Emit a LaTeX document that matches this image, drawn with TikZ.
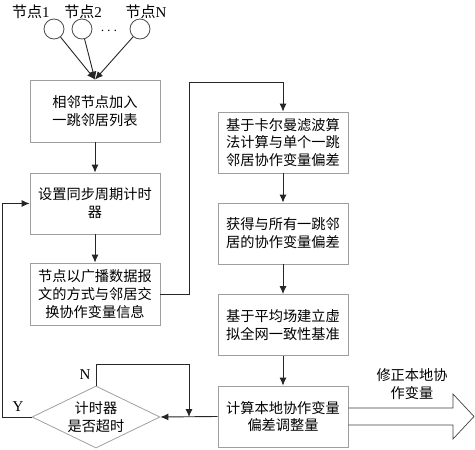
\documentclass[tikz,border=0pt]{standalone}
\usepackage{fontspec}
\setmainfont{Liberation Serif}
\newfontfamily\cjk{Noto Sans CJK SC}
\usetikzlibrary{arrows.meta,shapes.geometric,calc}
\begin{document}
\begin{tikzpicture}[x=1pt,y=-1pt,
  box/.style={draw=gray!75, line width=0.8pt, minimum width=130pt, minimum height=62pt, inner sep=0pt, align=center, font=\cjk\fontsize{14.2}{17.8}\selectfont},
  arr/.style={-{Latex[length=8pt,width=7pt]}, line width=0.9pt, draw=black!85},
  circ/.style={circle, draw=black!70, line width=0.8pt, minimum size=20pt, inner sep=0pt},
  lbl/.style={font=\fontsize{15}{17}\selectfont, inner sep=0pt},
  clbl/.style={font=\cjk\fontsize{14.2}{18}\selectfont, align=center, inner sep=0pt}]
\useasboundingbox (0,0) rectangle (475,450);
% top nodes
\node[lbl] (l1) at (31,12) {{\cjk 节点}1};
\node[lbl] (l2) at (83,12) {{\cjk 节点}2};
\node[lbl] (lN) at (146,12) {{\cjk 节点}N};
\node[circ] (c1) at (54,29) {};
\node[circ] (c2) at (82,29) {};
\node[circ] (cN) at (140,29) {};
\node[lbl] (dots) at (109,31) {$\cdots$};
% boxes
\node[box] (b1) at (95,111) {相邻节点加入\\一跳邻居列表};
\node[box, minimum height=61pt] (b2) at (95,203.5) {设置同步周期计时\\器};
\node[box] (b3) at (95,294) {节点以广播数据报\\文的方式与邻居交\\换协作变量信息};
\node[box, minimum height=61pt] (b4) at (283,142.5) {基于卡尔曼滤波算\\法计算与单个一跳\\邻居协作变量偏差};
\node[box, minimum height=61pt] (b5) at (283,233.5) {获得与所有一跳邻\\居的协作变量偏差};
\node[box, minimum height=61pt] (b6) at (283,325) {基于平均场建立虚\\拟全网一致性基准};
\node[box, minimum height=61pt] (b7) at (283,416.5) {计算本地协作变量\\偏差调整量};
% decision
\node[diamond, draw=gray!75, line width=0.8pt, minimum width=128pt, minimum height=62pt, inner sep=0pt] (d) at (96,417) {};
\node[clbl] (dt) at (d.center) {计时器\\是否超时};
% connectors
\draw[arr] (c1) -- (b1.north);
\draw[arr] (c2) -- (b1.north);
\draw[arr] (cN) -- (b1.north);
\draw[arr] (b1) -- (b2);
\draw[arr] (b2) -- (b3);
\coordinate (t) at (189,82);
\draw[arr] (b3.east) -| (t) -| (b4.north);
\draw[arr] (b4) -- (b5);
\draw[arr] (b5) -- (b6);
\draw[arr] (b6) -- (b7);
\draw[arr] (b7.west) -- (d.east);
\coordinate (ntop) at (189,364);
\coordinate (nbot) at (189,417);
\draw[arr] (d.north) |- (ntop) -- (nbot);
\coordinate (yl) at (2,417);
\draw[arr] (d.west) -- (yl) |- (b2.west);
\node[lbl] (N) at (85,375) {N};
\node[lbl] (Y) at (18,407) {Y};
% output arrow
\draw[line width=0.7pt, draw=black!75] (b7.east |- 0,408) -- (453,408) -- (453,394) -- (474,416.5) -- (453,439) -- (453,425) -- (b7.east |- 0,425);
\node[clbl] (out) at (412,384) {修正本地协\\作变量};
\end{tikzpicture}
\end{document}
